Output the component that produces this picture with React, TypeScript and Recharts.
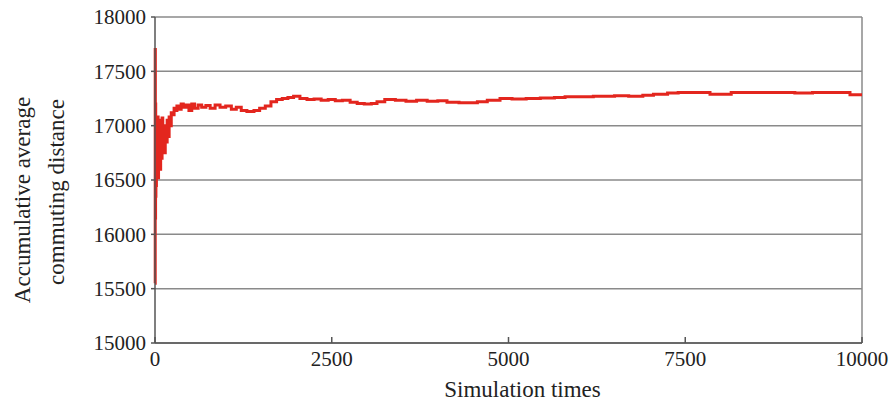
import React from "react";
import {
  LineChart,
  Line,
  XAxis,
  YAxis,
  CartesianGrid,
  ReferenceLine,
  Label,
} from "recharts";

// simulation index (x) and accumulative average commuting distance (y)
const simTimes = [
  1, 3, 5, 8, 10, 13, 16, 20, 24, 28, 33, 38, 44, 50, 57, 64, 72, 80, 90, 100,
  110, 120, 132, 145, 158, 172, 186, 200, 215, 230, 250, 270, 290, 310, 340,
  370, 400, 440, 480, 520, 560, 610, 660, 720, 780, 850, 920, 1000, 1080, 1150,
  1220, 1300, 1400, 1480, 1560, 1640, 1720, 1800, 1880, 1960, 2050, 2150, 2250,
  2350, 2450, 2550, 2650, 2760, 2860, 2960, 3060, 3140, 3250, 3400, 3550, 3700,
  3850, 4000, 4130, 4300, 4450, 4560, 4700, 4880, 5050, 5250, 5450, 5650, 5800,
  6000, 6200, 6300, 6500, 6700, 6900, 7050, 7250, 7400, 7650, 7850, 8000, 8150,
  8500, 8850, 9050, 9300, 9650, 9830, 10000,
];

const avgDistance = [
  15550, 17700, 16150, 17200, 16350, 16900, 16450, 17050, 16550, 17000, 16600,
  17080, 16520, 16950, 16650, 17050, 16600, 16980, 16700, 17070, 16800, 16950,
  16750, 17000, 16850, 17050, 16900, 17080, 17000, 17120, 17100, 17160, 17140,
  17180, 17150, 17200, 17170, 17190, 17140, 17200, 17160, 17190, 17170, 17185,
  17160, 17190, 17170, 17180, 17150, 17170, 17140, 17130, 17140, 17160, 17180,
  17220, 17240, 17250, 17260, 17270, 17250, 17240, 17245, 17235, 17240, 17230,
  17235, 17215, 17205, 17200, 17205, 17220, 17240, 17235, 17225, 17235, 17225,
  17230, 17215, 17210, 17210, 17220, 17235, 17250, 17245, 17250, 17255, 17260,
  17265, 17265, 17270, 17270, 17275, 17270, 17280, 17290, 17300, 17305, 17305,
  17290, 17290, 17305, 17305, 17305, 17300, 17305, 17305, 17285, 17285,
];

const xTicks = [0, 2500, 5000, 7500, 10000];
const yTicks = [15000, 15500, 16000, 16500, 17000, 17500, 18000];

const data = simTimes.map((t, i) => ({ t, avg: avgDistance[i] }));

const FONT = "Liberation Serif";

function YTitle(props: any) {
  const vb = props.viewBox || {};
  const cy = vb.y + vb.height / 2 + 20;
  return (
    <g>
      <text
        x={22}
        y={cy}
        fontFamily={FONT}
        fontSize={23}
        fill="#222"
        textAnchor="middle"
        dominantBaseline="central"
        transform={`rotate(-90, 22, ${cy})`}
      >
        Accumulative average
      </text>
      <text
        x={56}
        y={cy - 8}
        fontFamily={FONT}
        fontSize={23}
        fill="#222"
        textAnchor="middle"
        dominantBaseline="central"
        transform={`rotate(-90, 56, ${cy - 8})`}
      >
        commuting distance
      </text>
    </g>
  );
}

export default function App() {
  return (
    <div style={{ width: 894, height: 408, background: "#fff" }}>
      <style>{`body{margin:0}`}</style>
      <LineChart
        width={894}
        height={408}
        data={data}
        margin={{ top: 17, right: 32, left: 80, bottom: 35 }}
      >
        <CartesianGrid
          horizontal
          vertical={false}
          stroke="#8a8a8a"
          strokeWidth={1.5}
        />
        <ReferenceLine x={10000} stroke="#8a8a8a" strokeWidth={1.5} />
        <XAxis
          dataKey="t"
          type="number"
          domain={[0, 10000]}
          ticks={xTicks}
          height={30}
          stroke="#555"
          strokeWidth={1.5}
          tickSize={-6}
          tickMargin={14}
          tick={{ fontFamily: FONT, fontSize: 21, fill: "#222" }}
        >
          <Label
            value="Simulation times"
            position="bottom"
            offset={8}
            dx={14}
            fontFamily={FONT}
            fontSize={23}
            fill="#222"
          />
        </XAxis>
        <YAxis
          type="number"
          domain={[15000, 18000]}
          ticks={yTicks}
          width={75}
          stroke="#555"
          strokeWidth={1.5}
          tickSize={4}
          tickMargin={5}
          tick={{ fontFamily: FONT, fontSize: 21, fill: "#222" }}
          label={<YTitle />}
        />
        <Line
          type="stepAfter"
          dataKey="avg"
          stroke="#e3261e"
          strokeWidth={3}
          dot={false}
          isAnimationActive={false}
        />
      </LineChart>
    </div>
  );
}
